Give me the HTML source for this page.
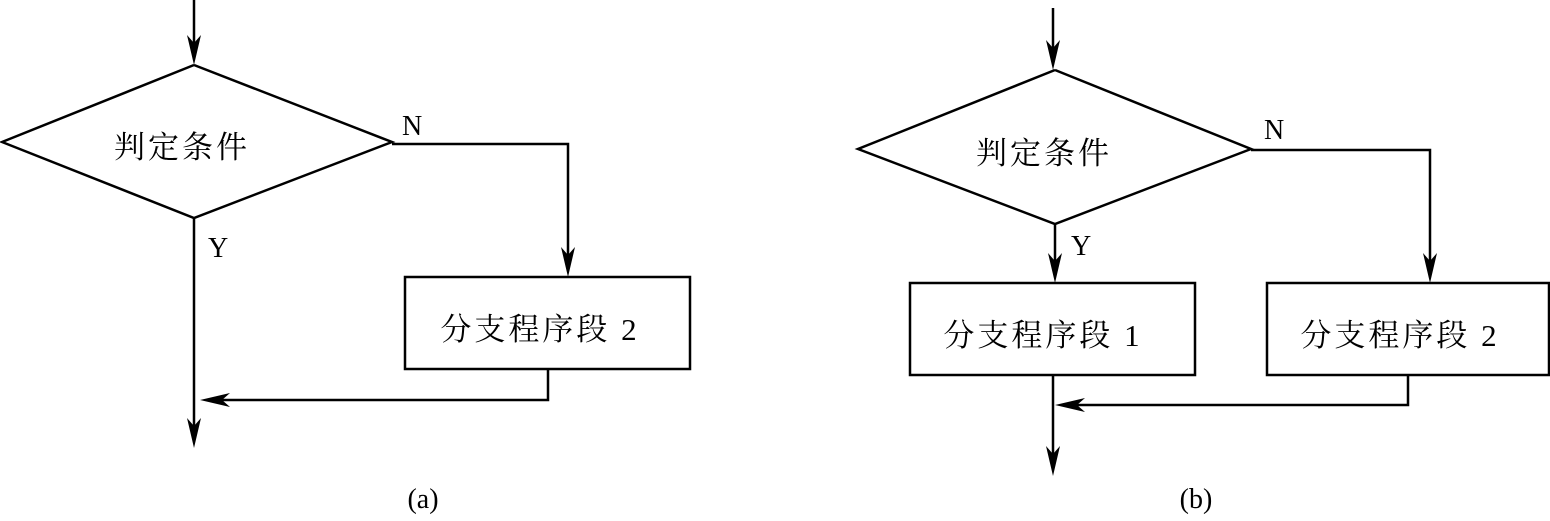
<!DOCTYPE html>
<html><head><meta charset="utf-8"><style>
html,body{margin:0;padding:0;background:#fff;}
svg text{font-family:"Liberation Serif","Noto Serif CJK SC",serif;fill:#000;}
</style></head><body>
<svg width="1550" height="516" viewBox="0 0 1550 516" xmlns="http://www.w3.org/2000/svg">
<g stroke="#000" stroke-width="2.5" fill="none">
<line x1="194" y1="0" x2="194" y2="55"/>
<polyline points="194,65 392,142 194,218 2,142 194,65"/>
<polyline points="392,144 568,144 568,268"/>
<rect x="405" y="277" width="285" height="92"/>
<polyline points="548,369 548,400 210,400"/>
<line x1="194" y1="218" x2="194" y2="440"/>
<line x1="1053" y1="8" x2="1053" y2="62"/>
<polyline points="1055,70 1251,149 1055,224 858,149 1055,70"/>
<polyline points="1251,150 1430,150 1430,274"/>
<line x1="1055" y1="224" x2="1055" y2="274"/>
<rect x="910" y="283" width="285" height="92"/>
<rect x="1267" y="283" width="282" height="92"/>
<polyline points="1408,375 1408,405 1065,405"/>
<line x1="1053" y1="375" x2="1053" y2="466"/>
</g>
<g fill="#000">
<path d="M194,65 L187,35 L194,43 L201,35 Z"/>
<path d="M568,277 L561,247 L568,255 L575,247 Z"/>
<path d="M200,400 L230,393 L222,400 L230,407 Z"/>
<path d="M194,448 L187,418 L194,426 L201,418 Z"/>
<path d="M1053,70 L1046,40 L1053,48 L1060,40 Z"/>
<path d="M1430,283 L1423,253 L1430,261 L1437,253 Z"/>
<path d="M1055,283 L1048,253 L1055,261 L1062,253 Z"/>
<path d="M1055,405 L1085,398 L1077,405 L1085,412 Z"/>
<path d="M1053,476 L1046,446 L1053,454 L1060,446 Z"/>
</g>
<g font-size="31" letter-spacing="3">
<text x="182" y="158" text-anchor="middle">判定条件</text>
<text x="540" y="340" text-anchor="middle">分支程序段 2</text>
<text x="1044" y="164" text-anchor="middle">判定条件</text>
<text x="1043" y="346" text-anchor="middle">分支程序段 1</text>
<text x="1400" y="346" text-anchor="middle">分支程序段 2</text>
</g>
<g font-size="28">
<text x="402" y="135">N</text>
<text x="208" y="257">Y</text>
<text x="1264" y="139">N</text>
<text x="1071" y="255">Y</text>
<text x="423" y="508" text-anchor="middle">(a)</text>
<text x="1196" y="508" text-anchor="middle">(b)</text>
</g>
</svg>
</body></html>
